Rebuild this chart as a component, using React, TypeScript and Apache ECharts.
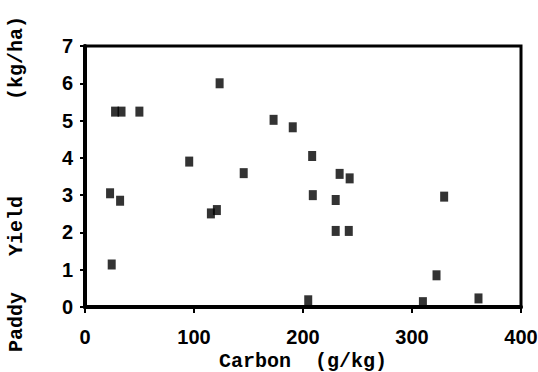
import React, { useEffect, useRef } from "react";
import * as echarts from "echarts";

const carbon = [27.6, 33.5, 49.9, 123.5, 95.6, 145.6, 23, 32.2, 115.5, 121, 173, 190.6, 208.4, 233.6, 242.8, 209, 230, 329.5, 230, 242, 322.5, 204.8, 310, 361, 24.5];
const yieldVals = [5.24, 5.24, 5.24, 6.0, 3.9, 3.59, 3.05, 2.85, 2.51, 2.6, 5.02, 4.82, 4.05, 3.57, 3.45, 3.0, 2.87, 2.96, 2.04, 2.04, 0.85, 0.18, 0.13, 0.23, 1.14];
const xTitle = "Carbon  (g/kg)";
const yTitle = "Paddy   Yield        (kg/ha)";

export default function App() {
  const ref = useRef<HTMLDivElement>(null);
  useEffect(() => {
    if (!ref.current) return;
    const chart = echarts.init(ref.current, null, { renderer: "svg" });
    const data = carbon.map((c, i) => [c, yieldVals[i]]);
    const tickFont = { fontFamily: "Liberation Sans", fontWeight: "bold" as const, fontSize: 20, color: "#000" };
    chart.setOption({
      animation: false,
      backgroundColor: "#fff",
      grid: {
        left: 85,
        right: 17,
        top: 46,
        bottom: 65,
        containLabel: false,
        outerBoundsMode: "none",
        show: true,
        borderColor: "#000",
        borderWidth: 3,
      },
      xAxis: {
        type: "value",
        min: 0,
        max: 400,
        interval: 100,
        name: xTitle,
        nameLocation: "middle",
        nameGap: 35,
        nameTextStyle: { fontFamily: "Liberation Mono", fontWeight: "bold", fontSize: 20, color: "#000" },
        axisLine: { show: true, lineStyle: { color: "#000", width: 4 } },
        axisTick: { show: true, length: 6, lineStyle: { color: "#000", width: 2 } },
        axisLabel: { ...tickFont, margin: 20 },
        splitLine: { show: false },
      },
      yAxis: {
        type: "value",
        min: 0,
        max: 7,
        interval: 1,
        axisLine: { show: true, lineStyle: { color: "#000", width: 4 } },
        axisTick: { show: true, length: 5, lineStyle: { color: "#000", width: 2 } },
        axisLabel: { ...tickFont, margin: 12 },
        splitLine: { show: false },
      },
      graphic: [
        {
          type: "text",
          x: 16,
          y: 184,
          rotation: Math.PI / 2,
          style: {
            text: yTitle,
            fontFamily: "Liberation Mono",
            fontWeight: "bold",
            fontSize: 20,
            fill: "#000",
            textAlign: "center",
            textVerticalAlign: "middle",
          },
        },
      ],
      series: [
        {
          type: "scatter",
          data,
          symbol: "rect",
          symbolSize: [8, 10],
          itemStyle: { color: "#000" },
        },
      ],
    });
    return () => chart.dispose();
  }, []);
  return <div ref={ref} style={{ width: 538, height: 372, position: "absolute", left: 0, top: 0 }} />;
}
